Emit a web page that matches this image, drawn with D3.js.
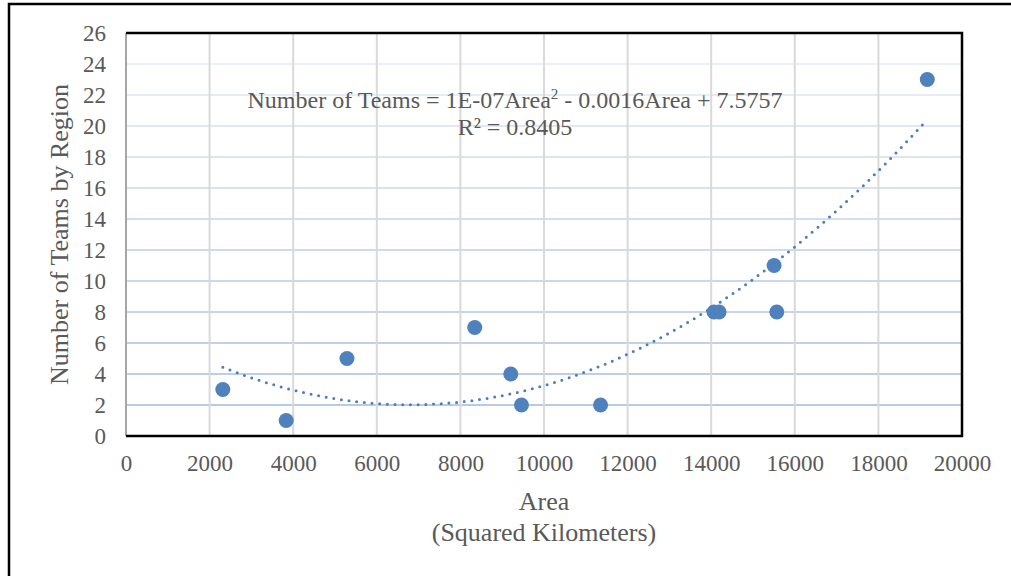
<!DOCTYPE html>
<html lang="en">
<head>
<meta charset="UTF-8">
<title>Number of Teams by Region vs Area</title>
<style>
body { margin: 0; background: #fff; }
svg { display: block; }
text { font-family: "Liberation Serif", "Times New Roman", serif; fill: #595959; }
.tick text { font-size: 23px; }
.axis-title { font-size: 26px; }
.eq { font-size: 24px; }
</style>
</head>
<body>
<script src="https://cdn.jsdelivr.net/npm/d3@7"></script>
<script>
// data
var areas = [2316, 3832, 5286, 8343, 9205, 9461, 11353, 14068, 14188, 15505, 15569, 19170];
var teams = [3, 1, 5, 7, 4, 2, 2, 8, 8, 11, 8, 23];
var xTicks = [0, 2000, 4000, 6000, 8000, 10000, 12000, 14000, 16000, 18000, 20000];
var yTicks = [0, 2, 4, 6, 8, 10, 12, 14, 16, 18, 20, 22, 24, 26];
var eqLabel = "Number of Teams = 1E-07Area";
var eqRest = " - 0.0016Area + 7.5757";
var r2Label = "R\u00b2 = 0.8405";

var W = 1011, H = 576;
var margin = { left: 126, right: 49, top: 33, bottom: 140 };
var width = W - margin.left - margin.right,
    height = H - margin.top - margin.bottom;

var svg = d3.select("body").append("svg")
  .attr("width", W)
  .attr("height", H);

// outer frame (runs off the page on the right and bottom)
svg.append("path")
  .attr("d", "M9,"+(H+5)+" L9,4 L"+(W+5)+",4")
  .attr("fill", "none")
  .attr("stroke", "#000")
  .attr("stroke-width", 2.5);

var g = svg.append("g")
  .attr("transform", "translate(" + margin.left + "," + margin.top + ")");

var x = d3.scaleLinear().domain([0, 20000]).range([0, width]);
var y = d3.scaleLinear().domain([0, 26]).range([height, 0]);

// gridlines - horizontal ones fade towards the top
var gridColor = d3.interpolateRgb("#b4c8e2", "#eef2f9");
g.selectAll("line.hgrid").data(yTicks.slice(1)).enter().append("line")
  .attr("class", "hgrid")
  .attr("x1", 0).attr("x2", width)
  .attr("y1", d => y(d)).attr("y2", d => y(d))
  .attr("stroke", d => gridColor(d / 26))
  .attr("stroke-width", 2);

g.selectAll("line.vgrid").data(xTicks.slice(1, -1)).enter().append("line")
  .attr("class", "vgrid")
  .attr("y1", 0).attr("y2", height)
  .attr("x1", d => x(d)).attr("x2", d => x(d))
  .attr("stroke", "#d9d9d9")
  .attr("stroke-width", 2);

// axes (labels only, lines drawn by hand below)
var xAxis = g.append("g")
  .attr("transform", "translate(0," + height + ")")
  .call(d3.axisBottom(x).tickValues(xTicks).tickFormat(d3.format("d")).tickSize(0).tickPadding(0));
xAxis.select(".domain").remove();
xAxis.selectAll(".tick text").attr("dy", null).attr("y", 35);

var yAxis = g.append("g")
  .call(d3.axisLeft(y).tickValues(yTicks).tickSize(0).tickPadding(20));
yAxis.select(".domain").remove();
yAxis.selectAll(".tick text").attr("dy", "0.33em");

// plot frame
g.append("line").attr("x1", 0).attr("x2", 0).attr("y1", 0).attr("y2", height)
  .attr("stroke", "#a6a6a6").attr("stroke-width", 2);
g.append("path")
  .attr("d", "M0,0 L" + width + ",0 L" + width + "," + height + " L0," + height)
  .attr("fill", "none").attr("stroke", "#000").attr("stroke-width", 2.5);

// polynomial (order 2) trendline fitted to the points
function fitQuad(xs, ys) {
  var n = xs.length, s = [0,0,0,0,0], t = [0,0,0];
  for (var i = 0; i < n; i++) {
    var p = 1;
    for (var k = 0; k < 5; k++) { s[k] += p; if (k < 3) t[k] += p * ys[i]; p *= xs[i]; }
  }
  var A = [[s[0], s[1], s[2], t[0]], [s[1], s[2], s[3], t[1]], [s[2], s[3], s[4], t[2]]];
  for (var c = 0; c < 3; c++) {
    for (var r = c + 1; r < 3; r++) {
      var f = A[r][c] / A[c][c];
      for (var k2 = c; k2 < 4; k2++) A[r][k2] -= f * A[c][k2];
    }
  }
  var b = [0,0,0];
  for (var r2 = 2; r2 >= 0; r2--) {
    var v = A[r2][3];
    for (var k3 = r2 + 1; k3 < 3; k3++) v -= A[r2][k3] * b[k3];
    b[r2] = v / A[r2][r2];
  }
  return b;
}
var coef = fitQuad(areas, teams);
var xMin = d3.min(areas), xMax = d3.max(areas);
var trend = d3.range(0, 101).map(i => {
  var a = xMin + (xMax - xMin) * i / 100;
  return [a, coef[0] + coef[1] * a + coef[2] * a * a];
});
g.append("path")
  .datum(trend)
  .attr("d", d3.line().x(d => x(d[0])).y(d => y(d[1])))
  .attr("fill", "none")
  .attr("stroke", "#4a7ebb")
  .attr("stroke-width", 3)
  .attr("stroke-linecap", "round")
  .attr("stroke-dasharray", "0 7.7");

// points
g.selectAll("circle.pt").data(areas).enter().append("circle")
  .attr("class", "pt")
  .attr("cx", d => x(d))
  .attr("cy", (d, i) => y(teams[i]))
  .attr("r", 7.5)
  .attr("fill", "#4f81bd");

// trendline label
var eq = g.append("text").attr("class", "eq")
  .attr("x", 389).attr("y", 75).attr("text-anchor", "middle");
eq.append("tspan").text(eqLabel);
eq.append("tspan").attr("dy", -9).attr("font-size", 15).text("2");
eq.append("tspan").attr("dy", 9).text(eqRest);
g.append("text").attr("class", "eq")
  .attr("x", 389).attr("y", 102).attr("text-anchor", "middle")
  .text(r2Label);

// axis titles
svg.append("text").attr("class", "axis-title")
  .attr("transform", "translate(68," + (margin.top + height / 2) + ") rotate(-90)")
  .attr("text-anchor", "middle")
  .text("Number of Teams by Region");
svg.append("text").attr("class", "axis-title")
  .attr("x", margin.left + width / 2).attr("y", 510)
  .attr("text-anchor", "middle").text("Area");
svg.append("text").attr("class", "axis-title")
  .attr("x", margin.left + width / 2).attr("y", 541)
  .attr("text-anchor", "middle").text("(Squared Kilometers)");
</script>
</body>
</html>
